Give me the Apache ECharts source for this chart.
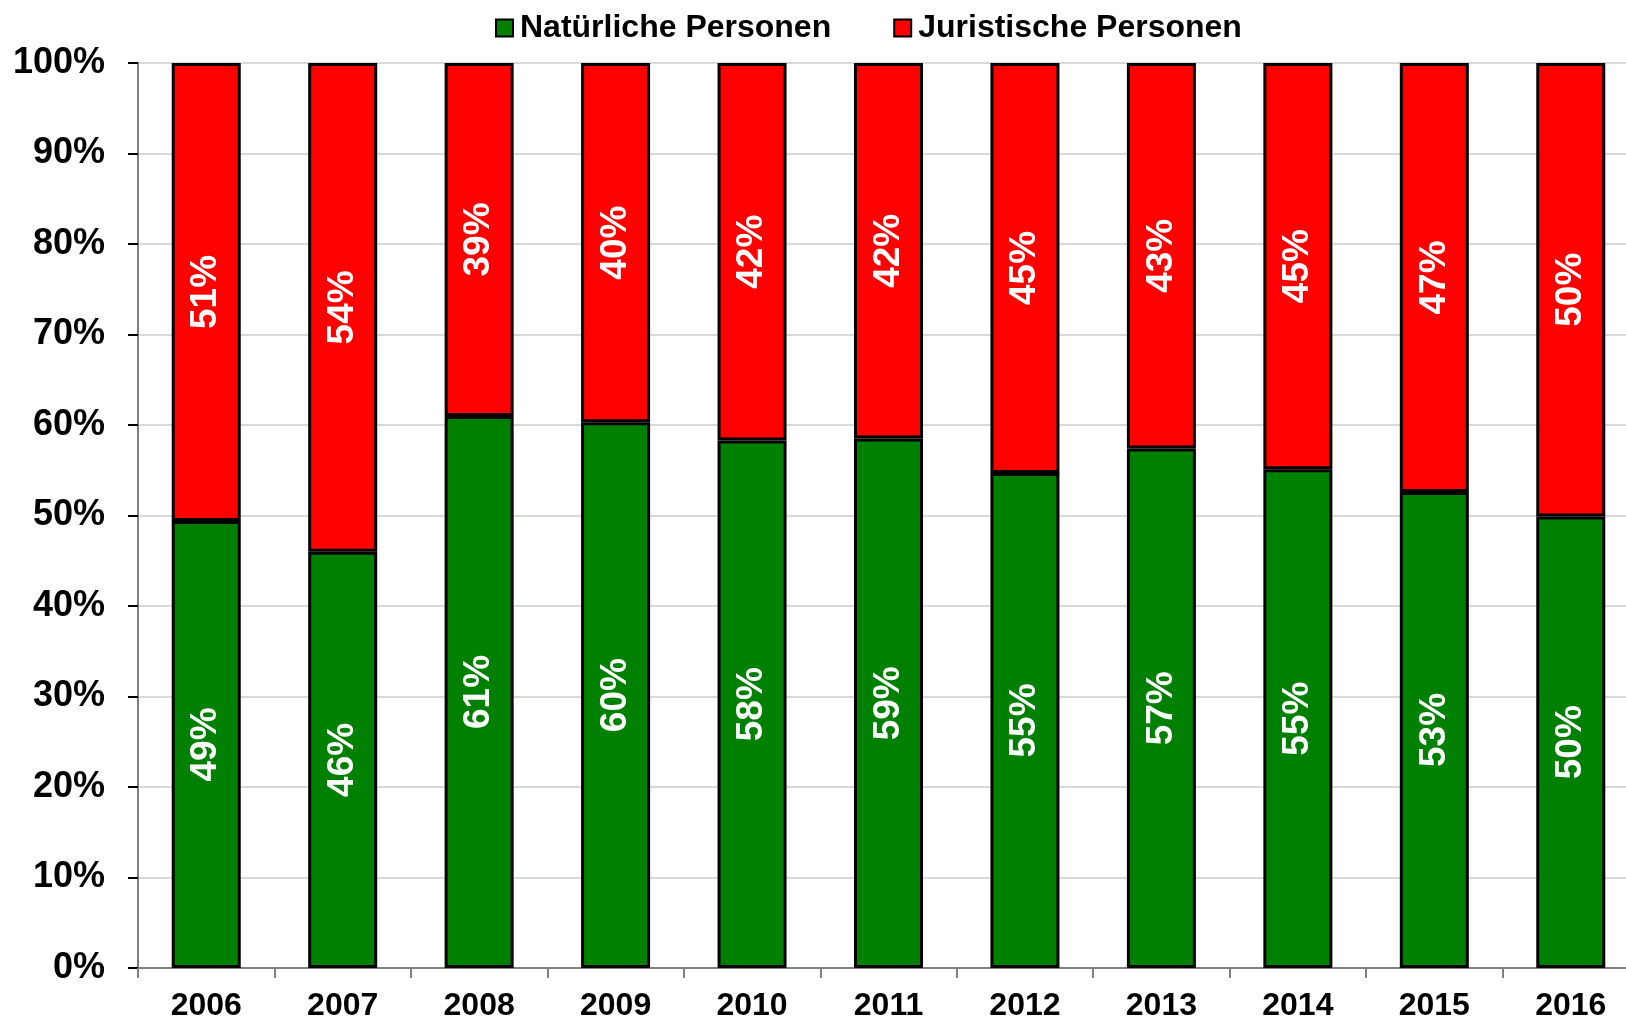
<!DOCTYPE html>
<html>
<head>
<meta charset="utf-8">
<title>Natürliche und Juristische Personen</title>
<script src="https://cdn.jsdelivr.net/npm/echarts@6/dist/echarts.min.js"></script>
<style>
  html, body { margin: 0; padding: 0; background: #fff; }
  #chart { width: 1626px; height: 1020px; }
</style>
</head>
<body>
<div id="chart"></div>
<script>
// Anteile je Jahr (in Prozent)
const years = ['2006', '2007', '2008', '2009', '2010', '2011', '2012', '2013', '2014', '2015', '2016'];
const natuerliche = [49.4, 46.0, 61.0, 60.3, 58.3, 58.5, 54.7, 57.4, 55.1, 52.6, 49.9];
const juristische = [50.6, 54.0, 39.0, 39.7, 41.7, 41.5, 45.3, 42.6, 44.9, 47.4, 50.1];
const yTicks = [0, 10, 20, 30, 40, 50, 60, 70, 80, 90, 100];

const FONT = '"Liberation Sans", Arial, sans-serif';

const chart = echarts.init(document.getElementById('chart'), null, { renderer: 'canvas' });

const barLabel = {
  show: true,
  position: 'inside',
  rotate: 90,
  color: '#fff',
  fontFamily: FONT,
  fontWeight: 'bold',
  fontSize: 37,
  formatter: p => Math.round(p.value) + '%'
};

chart.setOption({
  animation: false,
  backgroundColor: '#fff',
  textStyle: { fontFamily: FONT },
  legend: {
    left: 490,
    top: 7,
    itemWidth: 17,
    itemHeight: 17,
    itemGap: 62,
    icon: 'rect',
    textStyle: { fontFamily: FONT, fontWeight: 'bold', fontSize: 32, color: '#000', padding: [0, 0, 0, 2] },
    data: ['Natürliche Personen', 'Juristische Personen']
  },
  // the plot runs a little past the right edge of the canvas, so the last bar sits close to it
  grid: {
    left: 138,
    width: 1501,
    top: 63,
    bottom: 52,
    containLabel: false,
    outerBoundsMode: 'none'
  },
  xAxis: {
    type: 'category',
    data: years,
    boundaryGap: true,
    axisLine: { lineStyle: { color: '#808080', width: 2 } },
    axisTick: { show: true, length: 10, alignWithLabel: false, lineStyle: { color: '#808080', width: 2 } },
    axisLabel: { margin: 22, color: '#000', fontFamily: FONT, fontWeight: 'bold', fontSize: 32 },
    splitLine: { show: false }
  },
  yAxis: {
    type: 'value',
    min: yTicks[0],
    max: yTicks[yTicks.length - 1],
    interval: yTicks[1] - yTicks[0],
    axisLine: { show: true, lineStyle: { color: '#808080', width: 2 } },
    axisTick: { show: true, length: 10, lineStyle: { color: '#000', width: 2 } },
    axisLabel: { margin: 33, color: '#000', fontFamily: FONT, fontWeight: 'bold', fontSize: 36, formatter: v => v + '%' },
    splitLine: { show: true, lineStyle: { color: '#d9d9d9', width: 2 } }
  },
  series: [
    {
      name: 'Natürliche Personen',
      type: 'bar',
      stack: 'gesamt',
      barWidth: 69,
      data: natuerliche,
      itemStyle: { color: '#008000', borderColor: '#000', borderWidth: 3 },
      label: barLabel
    },
    {
      name: 'Juristische Personen',
      type: 'bar',
      stack: 'gesamt',
      barWidth: 69,
      data: juristische,
      itemStyle: { color: '#ff0000', borderColor: '#000', borderWidth: 3 },
      label: barLabel
    }
  ]
});
</script>
</body>
</html>
